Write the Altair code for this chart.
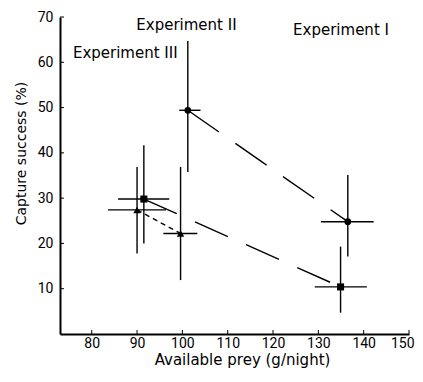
import altair as alt
import pandas as pd

# ---- data ----
series = ["circle", "circle", "square", "square", "triangle", "triangle"]
x_vals = [101.2, 136.5, 91.5, 134.9, 90.0, 99.6]
y_vals = [49.4, 24.8, 29.8, 10.4, 27.4, 22.2]
x_lo = [99.3, 130.6, 85.8, 129.2, 83.6, 95.8]
x_hi = [104.0, 142.2, 97.1, 140.7, 96.4, 103.3]
y_lo = [35.8, 17.1, 20.0, 4.7, 17.8, 11.9]
y_hi = [64.7, 35.1, 41.7, 19.3, 36.9, 36.9]

labels = ["Experiment II", "Experiment I", "Experiment III"]
label_x = [100.9, 135.0, 87.4]
label_y = [68.2, 67.1, 62.0]

x_ticks = [80, 90, 100, 110, 120, 130, 140, 150]
y_ticks = [10, 20, 30, 40, 50, 60, 70]

FONT = "DejaVu Sans"
NUMFONT = "Roboto"
W, H = 349, 317

df = pd.DataFrame({"series": series, "x": x_vals, "y": y_vals,
                   "xlo": x_lo, "xhi": x_hi, "ylo": y_lo, "yhi": y_hi})
lab = pd.DataFrame({"text": labels, "x": label_x, "y": label_y})
xt = pd.DataFrame({"t": x_ticks})
yt = pd.DataFrame({"t": y_ticks})

xs = alt.Scale(domain=[73, 150], nice=False, zero=False)
ys = alt.Scale(domain=[0, 70], nice=False, zero=False)

xaxis = alt.Axis(values=x_ticks, ticks=False, grid=False, domainColor="black",
                 domainWidth=2, labelColor="black", labelFont=NUMFONT, labelFontSize=14,
                 labelPadding=2, labelFlush=True, labelFlushOffset=5,
                 title="Available prey (g/night)", titleFont=FONT,
                 titleFontSize=15, titleFontWeight="normal", titleColor="black",
                 titlePadding=2, titleX=182)
yaxis = alt.Axis(values=y_ticks, ticks=False, grid=False, domainColor="black",
                 domainWidth=2, labelColor="black", labelFont=NUMFONT, labelFontSize=14,
                 labelPadding=7, labelFlush=False,
                 title="Capture success (%)", titleFont=FONT,
                 titleFontSize=14, titleFontWeight="normal", titleColor="black",
                 titlePadding=9, titleY=136)

base = alt.Chart(df)

lines = []
for s, dash in [("circle", [38, 20]), ("square", [36, 20]), ("triangle", [5, 4])]:
    lines.append(
        base.transform_filter(alt.datum.series == s)
        .mark_line(color="black", strokeWidth=1.4, strokeDash=dash)
        .encode(x=alt.X("x:Q", scale=xs, axis=xaxis), y=alt.Y("y:Q", scale=ys, axis=yaxis))
    )

vbars = base.mark_rule(color="black", strokeWidth=1.4).encode(
    x=alt.X("x:Q", scale=xs), y=alt.Y("ylo:Q", scale=ys), y2="yhi:Q")
hbars = base.mark_rule(color="black", strokeWidth=1.4).encode(
    y=alt.Y("y:Q", scale=ys), x=alt.X("xlo:Q", scale=xs), x2="xhi:Q")

pts = base.mark_point(filled=True, opacity=1, color="black").encode(
    x=alt.X("x:Q", scale=xs), y=alt.Y("y:Q", scale=ys),
    shape=alt.Shape("series:N", scale=alt.Scale(domain=["circle", "square", "triangle"],
                                                 range=["circle", "square", "triangle-up"]),
                    legend=None),
    size=alt.Size("series:N", scale=alt.Scale(domain=["circle", "square", "triangle"],
                                               range=[45, 55, 65]), legend=None))

texts = alt.Chart(lab).mark_text(font=FONT, fontSize=15, color="black").encode(
    x=alt.X("x:Q", scale=xs), y=alt.Y("y:Q", scale=ys), text="text:N")

xtick = alt.Chart(xt).mark_rule(color="black", strokeWidth=1).encode(
    x=alt.X("t:Q", scale=xs), y=alt.value(H), y2=alt.value(H - 4))
ytick = alt.Chart(yt).mark_rule(color="black", strokeWidth=1).encode(
    y=alt.Y("t:Q", scale=ys), x=alt.value(0), x2=alt.value(4))

chart = alt.layer(*lines, vbars, hbars, pts, texts, xtick, ytick).properties(
    width=W, height=H,
    autosize=alt.AutoSizeParams(type="none"),
    padding={"left": 52, "top": 9, "right": 6, "bottom": 36},
).configure(background="white", view=alt.ViewConfig(stroke="transparent", strokeWidth=0))

chart.save("out.html", embed_options={"renderer": "svg", "actions": False})
